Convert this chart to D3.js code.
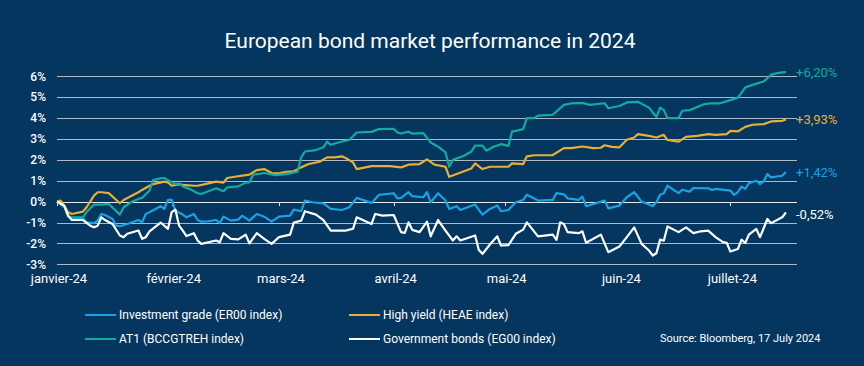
<!DOCTYPE html>
<html>
<style>
    body {
      margin: 0;
      overflow: hidden;
      background: #04365f;
    }
    text {
      font-family: Roboto, "Noto Sans", sans-serif;
      fill: #fff;
    }
    .grid line {
      stroke: #aeb8c4;
      stroke-width: 1;
    }
    .series {
      fill: none;
      stroke-width: 2.2;
      stroke-linejoin: round;
    }
</style>
<script src="https://cdn.jsdelivr.net/npm/d3@7"></script>
<svg></svg>
<script>
// values, % performance since 1 Jan 2024

var monthTicks = ["2024-01-01", "2024-02-01", "2024-03-01", "2024-04-01", "2024-05-01", "2024-06-01", "2024-07-01"]
var monthLabels = ["janvier-24", "février-24", "mars-24", "avril-24", "mai-24", "juin-24", "juillet-24"]
var yTicks = [-3, -2, -1, 0, 1, 2, 3, 4, 5, 6]

var igData = [["01-01",0],["01-03",-0.22],["01-04",-0.67],["01-05",-0.83],["01-08",-0.8],["01-09",-0.99],["01-11",-1.03],["01-12",-0.91],["01-13",-0.59],["01-14",-0.64],["01-16",-0.83],["01-17",-1.15],["01-18",-1.18],["01-20",-1.07],["01-23",-0.88],["01-24",-0.99],["01-25",-0.59],["01-26",-0.51],["01-29",-0.22],["01-30",-0.35],["01-31",0.08],["02-01",0.08],["02-02",-0.43],["02-04",-0.62],["02-05",-0.75],["02-07",-0.59],["02-08",-0.88],["02-09",-0.96],["02-11",-0.94],["02-13",-0.88],["02-14",-1.02],["02-15",-0.72],["02-17",-0.91],["02-19",-0.86],["02-20",-0.67],["02-22",-0.91],["02-24",-0.59],["02-26",-0.72],["02-28",-0.96],["03-01",-0.72],["03-04",-0.67],["03-05",-0.38],["03-07",-0.46],["03-08",0.05],["03-10",-0.03],["03-13",-0.08],["03-15",-0.35],["03-18",-0.4],["03-20",-0.27],["03-22",0.18],["03-26",-0.06],["03-28",0.32],["04-01",0.4],["04-02",0.16],["04-03",0.18],["04-05",0.45],["04-06",0.26],["04-09",0.21],["04-10",0.45],["04-11",-0.03],["04-13",0.4],["04-15",0.05],["04-16",-0.35],["04-18",-0.22],["04-19",-0.4],["04-23",-0.14],["04-25",-0.62],["04-27",-0.35],["04-29",-0.19],["04-30",-0.46],["05-02",-0.4],["05-04",-0.03],["05-06",0.08],["05-07",0.33],["05-10",0.05],["05-14",0.08],["05-15",0.41],["05-17",0.35],["05-18",0.16],["05-21",0.08],["05-22",0.24],["05-23",-0.22],["05-28",0.05],["05-29",-0.32],["06-01",-0.19],["06-03",0.21],["06-05",0.45],["06-07",0],["06-09",-0.14],["06-10",-0.22],["06-11",-0.03],["06-12",0.33],["06-13",0.4],["06-14",0.76],["06-17",0.41],["06-18",0.57],["06-20",0.48],["06-21",0.65],["06-25",0.64],["06-26",0.56],["06-27",0.61],["07-01",0.53],["07-02",0.32],["07-03",0.45],["07-04",0.72],["07-05",0.61],["07-06",0.88],["07-08",1.0],["07-09",0.84],["07-10",0.97],["07-11",1.32],["07-12",1.16],["07-15",1.24],["07-16",1.42]]

var hyData = [["01-01",0],["01-02",0.05],["01-03",-0.22],["01-04",-0.51],["01-05",-0.59],["01-08",-0.48],["01-09",-0.27],["01-11",0.29],["01-12",0.45],["01-13",0.45],["01-15",0.41],["01-18",-0.08],["01-19",0.08],["01-23",0.45],["01-24",0.56],["01-26",0.76],["01-27",0.84],["01-30",0.96],["01-31",0.92],["02-01",0.76],["02-03",0.84],["02-04",0.8],["02-07",0.76],["02-08",0.76],["02-10",0.84],["02-13",0.96],["02-15",0.91],["02-16",1.13],["02-18",1.19],["02-22",1.29],["02-24",1.51],["02-26",1.56],["02-28",1.37],["03-01",1.35],["03-03",1.43],["03-05",1.45],["03-07",1.64],["03-09",1.8],["03-12",1.91],["03-14",2.12],["03-16",2.12],["03-18",2.17],["03-19",2.09],["03-21",1.88],["03-22",1.56],["03-26",1.7],["03-31",1.7],["04-03",1.64],["04-05",1.77],["04-08",1.8],["04-10",2.02],["04-12",1.77],["04-15",1.67],["04-16",1.19],["04-18",1.32],["04-22",1.59],["04-23",1.83],["04-25",1.56],["04-27",1.67],["04-28",1.67],["05-02",1.67],["05-03",1.83],["05-06",1.8],["05-07",2.17],["05-09",2.22],["05-14",2.23],["05-17",2.56],["05-19",2.56],["05-22",2.64],["05-25",2.56],["05-27",2.58],["05-28",2.7],["05-30",2.62],["06-01",2.6],["06-03",2.96],["06-05",3.07],["06-06",3.23],["06-09",3.15],["06-11",3.07],["06-13",3.2],["06-14",2.95],["06-17",2.87],["06-19",3.1],["06-22",3.15],["06-25",3.23],["06-27",3.2],["06-30",3.23],["07-01",3.39],["07-03",3.36],["07-05",3.58],["07-07",3.68],["07-10",3.71],["07-12",3.84],["07-15",3.87],["07-16",3.93]]

var at1Data = [["01-01",0],["01-03",-0.27],["01-04",-0.72],["01-05",-0.75],["01-08",-0.75],["01-09",-0.5],["01-11",-0.14],["01-13",-0.14],["01-15",-0.11],["01-18",-0.62],["01-19",-0.27],["01-21",-0.03],["01-23",0.13],["01-24",0.18],["01-26",0.53],["01-27",1.03],["01-29",1.11],["01-30",1.13],["01-31",1.03],["02-02",0.84],["02-03",0.88],["02-04",0.73],["02-06",0.6],["02-08",0.4],["02-09",0.37],["02-13",0.64],["02-15",0.5],["02-16",0.68],["02-19",0.73],["02-21",0.91],["02-22",0.92],["02-23",1.29],["02-26",1.37],["02-29",1.27],["03-03",1.32],["03-06",1.43],["03-07",2.12],["03-08",2.4],["03-11",2.47],["03-13",2.6],["03-14",2.87],["03-15",2.72],["03-18",2.88],["03-20",2.95],["03-22",3.31],["03-26",3.34],["03-28",3.47],["04-01",3.49],["04-02",3.31],["04-03",3.26],["04-05",3.35],["04-06",3.26],["04-09",3.28],["04-11",2.83],["04-13",2.63],["04-15",2.36],["04-16",1.67],["04-17",2.0],["04-20",2.2],["04-22",2.4],["04-23",2.68],["04-25",2.68],["04-26",2.44],["04-28",2.63],["04-30",2.75],["05-02",2.67],["05-03",3.36],["05-04",3.39],["05-06",3.47],["05-07",4.0],["05-09",4.0],["05-10",4.12],["05-14",4.16],["05-17",4.63],["05-19",4.7],["05-22",4.73],["05-24",4.63],["05-28",4.71],["05-29",4.47],["06-01",4.58],["06-03",4.75],["06-06",4.78],["06-09",4.5],["06-10",4.27],["06-11",4.06],["06-12",4.5],["06-13",4.38],["06-14",4.0],["06-17",4.0],["06-18",4.35],["06-20",4.38],["06-24",4.67],["06-26",4.71],["06-28",4.7],["07-01",4.86],["07-03",4.98],["07-04",5.21],["07-05",5.46],["07-07",5.59],["07-10",5.75],["07-12",6.07],["07-13",6.13],["07-15",6.19],["07-16",6.2]]

var govData = [["01-01",0],["01-03",-0.2],["01-04",-0.67],["01-05",-0.88],["01-08",-0.88],["01-10",-1.15],["01-11",-1.23],["01-12",-1.15],["01-13",-0.75],["01-14",-0.88],["01-16",-1.07],["01-18",-1.62],["01-19",-1.7],["01-20",-1.54],["01-23",-1.38],["01-24",-1.78],["01-25",-1.7],["01-26",-1.42],["01-29",-1.0],["01-31",-1.3],["02-01",-0.5],["02-02",-0.38],["02-03",-1.15],["02-04",-1.39],["02-05",-1.65],["02-07",-1.51],["02-08",-1.86],["02-09",-2.02],["02-13",-1.86],["02-14",-1.94],["02-15",-1.51],["02-17",-1.78],["02-19",-1.81],["02-21",-1.58],["02-22",-2.0],["02-24",-1.51],["02-26",-1.78],["02-28",-2.02],["03-01",-1.7],["03-04",-1.58],["03-05",-1.0],["03-07",-0.91],["03-08",-0.46],["03-11",-0.62],["03-13",-0.88],["03-15",-1.39],["03-18",-1.39],["03-19",-1.39],["03-21",-1.3],["03-22",-0.75],["03-26",-1.07],["03-27",-0.59],["03-29",-0.67],["04-01",-0.64],["04-03",-1.46],["04-04",-1.5],["04-05",-0.99],["04-06",-1.35],["04-08",-1.46],["04-10",-0.96],["04-11",-1.66],["04-13",-0.88],["04-15",-1.39],["04-17",-1.86],["04-18",-1.66],["04-19",-1.86],["04-23",-1.62],["04-24",-2.31],["04-25",-2.5],["04-27",-2.05],["04-29",-1.66],["04-30",-2.1],["05-02",-2.08],["05-04",-1.54],["05-06",-1.34],["05-07",-0.99],["05-10",-1.66],["05-14",-1.58],["05-15",-1.83],["05-16",-0.99],["05-17",-1.07],["05-18",-1.46],["05-21",-1.51],["05-22",-1.42],["05-23",-1.97],["05-27",-1.58],["05-29",-2.42],["06-01",-2.15],["06-03",-1.7],["06-05",-1.23],["06-07",-2.02],["06-09",-2.34],["06-10",-2.58],["06-11",-2.47],["06-12",-1.82],["06-13",-1.87],["06-14",-1.19],["06-17",-1.46],["06-19",-1.23],["06-21",-1.51],["06-23",-1.42],["06-25",-1.39],["06-27",-1.7],["06-29",-1.94],["06-30",-1.97],["07-01",-2.39],["07-03",-2.27],["07-04",-1.82],["07-05",-1.98],["07-06",-1.58],["07-08",-1.31],["07-09",-1.7],["07-11",-0.83],["07-12",-1.03],["07-15",-0.75],["07-16",-0.52]]

var seriesNames = ["Investment grade (ER00 index)", "High yield (HEAE index)", "AT1 (BCCGTREH index)", "Government bonds (EG00 index)"]
var seriesColors = ["#1aa3e2", "#e8ae36", "#15aaa0", "#ffffff"]
var endLabels = ["+1,42%", "+3,93%", "+6,20%", "-0,52%"]

var width = 864,
    height = 366;

var parseDate = d3.timeParse("%Y-%m-%d");

var series = [igData, hyData, at1Data, govData].map(function(rows, i) {
  return {
    name: seriesNames[i],
    color: seriesColors[i],
    label: endLabels[i],
    values: rows.map(function(r) { return {date: parseDate("2024-" + r[0]), value: r[1]} })
  }
})

var x = d3.scaleTime()
    .domain([parseDate("2024-01-01"), parseDate("2024-07-19")])
    .range([57, 797]);

var y = d3.scaleLinear()
    .domain([-3, 6])
    .range([264.3, 76.3]);

var svg = d3.select("svg")
    .attr("width", width)
    .attr("height", height);

svg.append("text")
    .attr("x", 430)
    .attr("y", 48)
    .attr("text-anchor", "middle")
    .style("font-size", "21px")
    .text("European bond market performance in 2024");

// horizontal grid
svg.append("g")
    .attr("class", "grid")
    .selectAll("line")
    .data(yTicks)
  .enter().append("line")
    .attr("x1", x.range()[0])
    .attr("x2", x.range()[1])
    .attr("y1", function(d) { return Math.round(y(d)) + 0.5 })
    .attr("y2", function(d) { return Math.round(y(d)) + 0.5 })
    .style("stroke", function(d) { return d === 0 ? "#e6eaee" : null });

// y labels
svg.append("g")
    .selectAll("text")
    .data(yTicks)
  .enter().append("text")
    .attr("x", 46)
    .attr("y", function(d) { return y(d) })
    .attr("dy", "0.35em")
    .attr("text-anchor", "end")
    .style("font-size", "12px")
    .style("font-weight", 500)
    .text(function(d) { return d + "%" });

// month ticks sit on the 0% line, labels along the bottom
var monthDates = monthTicks.map(parseDate);

svg.append("g")
    .selectAll("line")
    .data(monthDates)
  .enter().append("line")
    .attr("x1", function(d) { return Math.round(x(d)) + 0.5 })
    .attr("x2", function(d) { return Math.round(x(d)) + 0.5 })
    .attr("y1", Math.round(y(0)))
    .attr("y2", Math.round(y(0)) + 4)
    .style("stroke", "#e6eaee");

svg.append("g")
    .selectAll("text")
    .data(monthDates)
  .enter().append("text")
    .attr("x", function(d) { return x(d) + 2 })
    .attr("y", 283)
    .attr("text-anchor", "middle")
    .style("font-size", "13px")
    .text(function(d, i) { return monthLabels[i] });

var line = d3.line()
    .x(function(d) { return x(d.date) })
    .y(function(d) { return y(d.value) });

svg.append("g")
    .selectAll("path")
    .data(series)
  .enter().append("path")
    .attr("class", "series")
    .style("stroke", function(d) { return d.color })
    .attr("d", function(d) { return line(d.values) });

svg.append("g")
    .selectAll("text")
    .data(series)
  .enter().append("text")
    .attr("x", 796)
    .attr("y", function(d) { return y(d.values[d.values.length - 1].value) + (d.label[0] == "-" ? 1.5 : 0) })
    .attr("dy", "0.35em")
    .style("font-size", "13px")
    .style("fill", function(d) { return d.color })
    .text(function(d) { return d.label });

// legend, two columns
var legend = svg.append("g")
    .selectAll("g")
    .data(series)
  .enter().append("g")
    .attr("transform", function(d, i) {
      return "translate(" + (i % 2 ? 349 : 85) + "," + (i < 2 ? 315 : 339) + ")"
    });

legend.append("line")
    .attr("x1", 0)
    .attr("x2", 31)
    .style("stroke", function(d) { return d.color })
    .style("stroke-width", 2);

legend.append("text")
    .attr("x", 34)
    .attr("dy", "0.35em")
    .style("font-size", "12px")
    .text(function(d) { return d.name });

svg.append("text")
    .attr("x", 660)
    .attr("y", 338)
    .attr("dy", "0.35em")
    .style("font-size", "11px")
    .text("Source: Bloomberg, 17 July 2024");
</script>
</html>
